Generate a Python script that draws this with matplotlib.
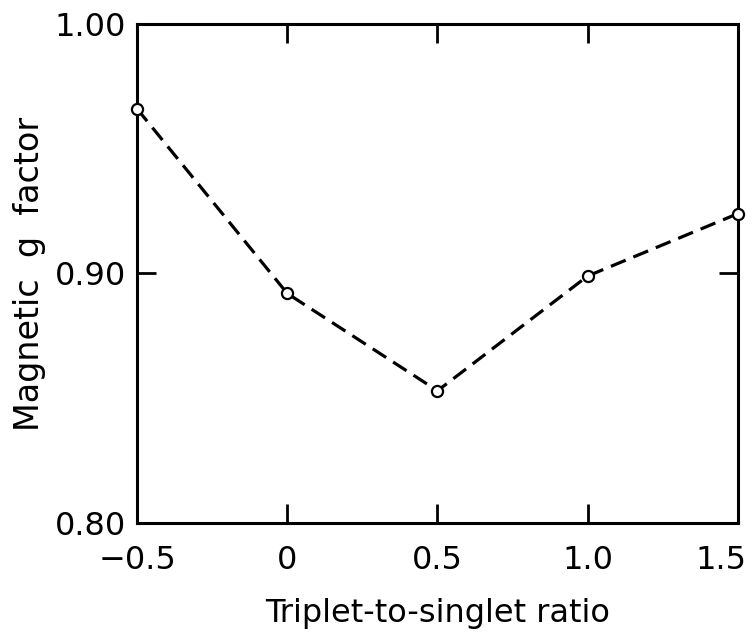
import matplotlib
matplotlib.use("Agg")
import matplotlib.pyplot as plt
import matplotlib.transforms as mtrans

# data
ratio = [-0.5, 0.0, 0.5, 1.0, 1.5]
g_factor = [0.966, 0.892, 0.853, 0.899, 0.924]

xticks = [-0.5, 0, 0.5, 1.0, 1.5]
xtick_labels = ["\u22120.5", "0", "0.5", "1.0", "1.5"]
yticks = [0.80, 0.90, 1.00]
ytick_labels = ["0.80", "0.90", "1.00"]

fig = plt.figure(figsize=(7.53, 6.39), dpi=100)
ax = fig.add_axes([0.182, 0.1815, 0.798, 0.781])

ax.plot(ratio, g_factor, color='black', linestyle=(0, (5, 2.6)), linewidth=2.3,
        marker='o', markersize=8, markerfacecolor='white',
        markeredgecolor='black', markeredgewidth=1.6, clip_on=False, zorder=3)

ax.set_xlim(-0.5, 1.5)
ax.set_ylim(0.80, 1.00)
ax.set_xticks(xticks)
ax.set_xticklabels(xtick_labels)
ax.set_yticks(yticks)
ax.set_yticklabels(ytick_labels)

ax.tick_params(direction='in', length=14, width=2, labelsize=23,
               top=True, right=True)
ax.tick_params(axis='x', pad=16)
ax.tick_params(axis='y', pad=8)
for s in ax.spines.values():
    s.set_linewidth(2.2)

# keep the last x label inside the figure, as in the original
last = ax.get_xticklabels()[-1]
last.set_transform(last.get_transform() +
                   mtrans.ScaledTranslation(-12 / 72, 0, fig.dpi_scale_trans))

ax.set_xlabel("Triplet-to-singlet ratio", fontsize=23, labelpad=16)
ax.set_ylabel("Magnetic  g  factor", fontsize=24, labelpad=6)

fig.savefig("out.png", dpi=100)
